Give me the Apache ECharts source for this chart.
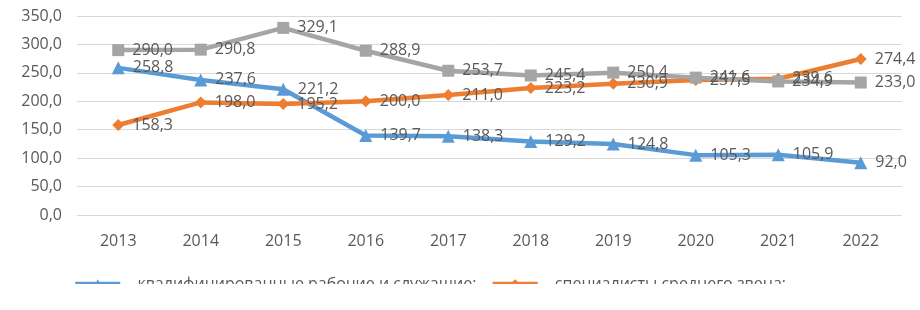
<!DOCTYPE html>
<html>
<head>
<meta charset="utf-8">
<script src="https://cdn.jsdelivr.net/npm/echarts@6/dist/echarts.min.js"></script>
<style>
  html, body { margin: 0; padding: 0; background: #fff; overflow: hidden; }
  #wrap { width: 920px; height: 284px; overflow: hidden; }
  #chart { width: 920px; height: 310px; }
</style>
</head>
<body>
<div id="wrap"><div id="chart"></div></div>
<script>
var years = ['2013', '2014', '2015', '2016', '2017', '2018', '2019', '2020', '2021', '2022'];
var workers = [258.8, 237.6, 221.2, 139.7, 138.3, 129.2, 124.8, 105.3, 105.9, 92.0];
var middle = [158.3, 198.0, 195.2, 200.0, 211.0, 223.2, 230.9, 237.5, 239.6, 274.4];
var higher = [290.0, 290.8, 329.1, 288.9, 253.7, 245.4, 250.4, 241.6, 234.9, 233.0];

var textColor = '#595959';
var font = 'Open Sans';

var fmt = function (v) { return v.toFixed(1).replace('.', ','); };

var myChart = echarts.init(document.getElementById('chart'));

var series = [
  { name: '– квалифицированные рабочие и служащие;', data: workers, color: '#5B9BD5', symbol: 'triangle', symbolSize: 13 },
  { name: '– специалисты среднего звена;', data: middle, color: '#ED7D31', symbol: 'diamond', symbolSize: 12 },
  { name: '– специалисты высшего звена', data: higher, color: '#A5A5A5', symbol: 'rect', symbolSize: 12 }
].map(function (s) {
  return {
    name: s.name,
    type: 'line',
    data: s.data,
    symbol: s.symbol,
    symbolSize: s.symbolSize,
    itemStyle: { color: s.color },
    lineStyle: { color: s.color, width: 4.5 },
    label: {
      show: true,
      position: 'right',
      distance: 8,
      color: textColor,
      fontFamily: font,
      fontSize: 16,
      formatter: function (p) { return fmt(p.value); }
    },
    animation: false
  };
});

myChart.setOption({
  animation: false,
  textStyle: { fontFamily: font, color: textColor },
  grid: { left: 77, right: 18, top: 16, height: 199 },
  legend: {
    data: [series[0].name, series[1].name],
    left: 68,
    top: 271,
    itemWidth: 45,
    itemHeight: 12,
    itemGap: 14,
    lineStyle: { width: 4.5, opacity: 1, color: 'inherit' },
    textStyle: { color: textColor, fontFamily: font, fontSize: 16 }
  },
  xAxis: {
    type: 'category',
    data: years,
    boundaryGap: true,
    axisLine: { show: false },
    axisTick: { show: false },
    axisLabel: { color: textColor, fontFamily: font, fontSize: 16, margin: 18 }
  },
  yAxis: {
    type: 'value',
    min: 0,
    max: 350,
    interval: 50,
    splitLine: { lineStyle: { color: '#D9D9D9', width: 1 } },
    axisLine: { show: false },
    axisTick: { show: false },
    axisLabel: {
      color: textColor, fontFamily: font, fontSize: 16, margin: 15,
      formatter: function (v) { return fmt(v); }
    }
  },
  series: series
});
</script>
</body>
</html>
